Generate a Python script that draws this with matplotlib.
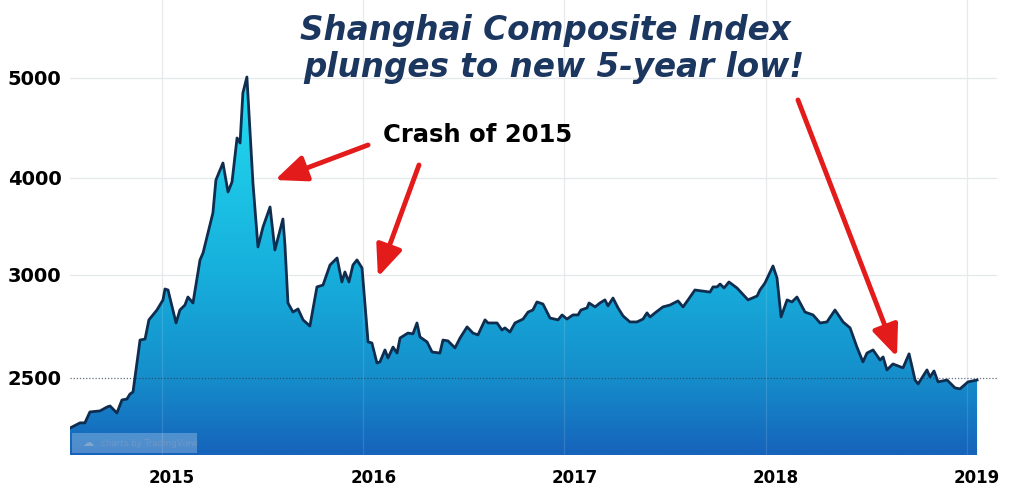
import numpy as np
import matplotlib
matplotlib.use('Agg')
import matplotlib.pyplot as plt
from matplotlib.colors import LinearSegmentedColormap
from matplotlib.patches import Polygon, Rectangle
from matplotlib.transforms import ScaledTranslation

# Shanghai Composite, weekly-ish readings (decimal year, index level)
years = [
    2014.543, 2014.593, 2014.617, 2014.642, 2014.692, 2014.727, 2014.742, 2014.776,
    2014.801, 2014.826, 2014.841, 2014.856, 2014.891, 2014.916, 2014.935, 2014.975,
    2015.005, 2015.015, 2015.030, 2015.070, 2015.089, 2015.114, 2015.129, 2015.154,
    2015.189, 2015.204, 2015.253, 2015.268, 2015.303, 2015.328, 2015.348, 2015.373,
    2015.388, 2015.402, 2015.422, 2015.452, 2015.477, 2015.502, 2015.537, 2015.561,
    2015.601, 2015.611, 2015.626, 2015.651, 2015.676, 2015.701, 2015.735, 2015.770,
    2015.800, 2015.835, 2015.870, 2015.894, 2015.909, 2015.929, 2015.949, 2015.969,
    2015.994, 2016.024, 2016.043, 2016.068, 2016.083, 2016.108, 2016.123, 2016.148,
    2016.168, 2016.183, 2016.222, 2016.247, 2016.267, 2016.282, 2016.317, 2016.342,
    2016.381, 2016.396, 2016.421, 2016.456, 2016.481, 2016.516, 2016.545, 2016.570,
    2016.605, 2016.620, 2016.665, 2016.689, 2016.704, 2016.729, 2016.754, 2016.794,
    2016.819, 2016.843, 2016.863, 2016.893, 2016.928, 2016.968, 2016.988, 2017.012,
    2017.042, 2017.067, 2017.082, 2017.112, 2017.122, 2017.152, 2017.176, 2017.201,
    2017.216, 2017.241, 2017.266, 2017.291, 2017.325, 2017.360, 2017.390, 2017.410,
    2017.425, 2017.450, 2017.489, 2017.524, 2017.564, 2017.589, 2017.614, 2017.648,
    2017.723, 2017.738, 2017.758, 2017.773, 2017.793, 2017.817, 2017.857, 2017.912,
    2017.957, 2017.971, 2017.996, 2018.036, 2018.056, 2018.076, 2018.106, 2018.130,
    2018.155, 2018.195, 2018.235, 2018.270, 2018.304, 2018.344, 2018.384, 2018.419,
    2018.453, 2018.483, 2018.503, 2018.533, 2018.568, 2018.583, 2018.602, 2018.632,
    2018.682, 2018.712, 2018.742, 2018.757, 2018.801, 2018.816, 2018.836, 2018.856,
    2018.901, 2018.940, 2018.965, 2019.005, 2019.050,
]
index_close = [
    2257, 2282, 2282, 2335, 2340, 2359, 2364, 2330,
    2393, 2398, 2422, 2432, 2684, 2689, 2782, 2830,
    2879, 2932, 2927, 2767, 2830, 2854, 2893, 2864,
    3155, 3227, 3639, 3979, 4150, 3856, 3959, 4400,
    4350, 4850, 5010, 3949, 3289, 3495, 3701, 3258,
    3577, 3309, 2864, 2820, 2835, 2782, 2752, 2942,
    2951, 3103, 3175, 2966, 3031, 2966, 3103, 3155,
    3072, 2675, 2670, 2573, 2578, 2636, 2597, 2650,
    2621, 2694, 2718, 2714, 2767, 2699, 2675, 2626,
    2621, 2684, 2680, 2646, 2694, 2748, 2718, 2709,
    2782, 2767, 2767, 2733, 2743, 2723, 2767, 2786,
    2820, 2830, 2869, 2859, 2791, 2782, 2806, 2786,
    2806, 2806, 2830, 2840, 2864, 2845, 2864, 2879,
    2850, 2888, 2840, 2801, 2772, 2772, 2786, 2816,
    2796, 2816, 2845, 2854, 2874, 2845, 2879, 2927,
    2917, 2942, 2942, 2956, 2937, 2966, 2937, 2879,
    2898, 2927, 2961, 3093, 2985, 2796, 2879, 2869,
    2893, 2820, 2806, 2767, 2772, 2830, 2772, 2743,
    2650, 2578, 2621, 2636, 2587, 2602, 2539, 2568,
    2549, 2617, 2490, 2471, 2539, 2505, 2534, 2481,
    2490, 2452, 2447, 2481, 2490,
]

year_ticks = [2015, 2016, 2017, 2018, 2019]
value_ticks = [2500, 3000, 4000, 5000]

# the source axis is not evenly spaced: piecewise linear mapping
scale_vals = [0, 2500, 3000, 4000, 5000, 10000]
scale_pos = [-515, 0, 103, 200, 300, 800]


def fwd(v):
    return np.interp(v, scale_vals, scale_pos)


def inv(p):
    return np.interp(p, scale_pos, scale_vals)


x_min, x_max = 2014.543, 2019.149
y_min, y_max = 2126, 5780

fig = plt.figure(figsize=(10.24, 4.9), dpi=100)
ax = fig.add_axes([70 / 1024, 35 / 490, 927 / 1024, 455 / 490])
ax.set_yscale('function', functions=(fwd, inv))

grid_col = '#e4e8eb'
for v in value_ticks[1:]:
    ax.axhline(v, color=grid_col, lw=0.9, zorder=0)
for yr in year_ticks:
    ax.axvline(yr, color=grid_col, lw=0.9, zorder=0)

# gradient fill under the curve
blues = LinearSegmentedColormap.from_list('sse', [
    (0.0, '#1663bb'), (0.17, '#158ecb'), (0.40, '#17afdc'),
    (0.78, '#22d8ef'), (1.0, '#34e8f8')])
grad = np.linspace(0, 1, 256).reshape(-1, 1)
im = ax.imshow(grad, cmap=blues, extent=[0, 1, 0, 1], transform=ax.transAxes,
               aspect='auto', origin='lower', zorder=2)
verts = list(zip(years, index_close)) + [(years[-1], y_min), (years[0], y_min)]
area = Polygon(verts, closed=True, facecolor='none', edgecolor='none')
ax.add_patch(area)
im.set_clip_path(area)

for yr in year_ticks:
    ax.axvline(yr, color='white', lw=0.9, alpha=0.12, zorder=2.5)
ax.axhline(2500, color='#2b3e55', lw=0.9, ls=(0, (1, 1.5)), alpha=0.75, zorder=3)

ax.plot(years, index_close, color='#0f2d4f', lw=2, zorder=4, solid_joinstyle='round')

ax.set_xlim(x_min, x_max)
ax.set_ylim(y_min, y_max)

ax.set_xticks(year_ticks)
ax.set_xticklabels([str(y) for y in year_ticks], fontsize=12, fontweight='bold')
ax.set_yticks(value_ticks)
ax.set_yticklabels([str(v) for v in value_ticks], fontsize=14, fontweight='bold')
ax.yaxis.set_minor_locator(matplotlib.ticker.NullLocator())
ax.tick_params(axis='both', length=0)
ax.tick_params(axis='x', pad=10)
ax.tick_params(axis='y', pad=6)
shift = ScaledTranslation(0.1, 0, fig.dpi_scale_trans)
for lab in ax.get_xticklabels():
    lab.set_transform(lab.get_transform() + shift)
for s in ax.spines.values():
    s.set_visible(False)

# TradingView badge
ax.add_patch(Rectangle((0.002, 0.004), 0.135, 0.044, transform=ax.transAxes,
                       facecolor='white', alpha=0.25, edgecolor='none', zorder=5))
ax.text(0.013, 0.026, '\u2601', transform=ax.transAxes, fontsize=8,
        color='#7fa6cf', va='center', zorder=6)
ax.text(0.033, 0.026, 'charts by TradingView', transform=ax.transAxes, fontsize=6.3,
        color='#6f98c6', va='center', zorder=6)

# headline
title_col = '#1b365f'
fig.text(300 / 1024, 1 - 40 / 490, 'Shanghai Composite Index', fontsize=23.5,
         fontweight='bold', style='italic', color=title_col, va='baseline')
fig.text(303 / 1024, 1 - 77 / 490, 'plunges to new 5-year low!', fontsize=23.5,
         fontweight='bold', style='italic', color=title_col, va='baseline')
fig.text(383 / 1024, 1 - 142 / 490, 'Crash of 2015', fontsize=17.5,
         fontweight='bold', color='black', va='baseline')

arrow_red = '#e31b1b'
arrows = [
    ((2015.561, 3979), (2016.024, 4330)),
    ((2016.073, 2990), (2016.277, 4130)),
    ((2018.652, 2602), (2018.160, 4780)),
]
for tip, tail in arrows:
    ax.annotate('', xy=tip, xytext=tail, zorder=7,
                arrowprops=dict(arrowstyle='-|>,head_length=0.95,head_width=0.4',
                                mutation_scale=20, color=arrow_red, lw=3.5,
                                shrinkA=0, shrinkB=0))

fig.savefig('out.png', dpi=100)
